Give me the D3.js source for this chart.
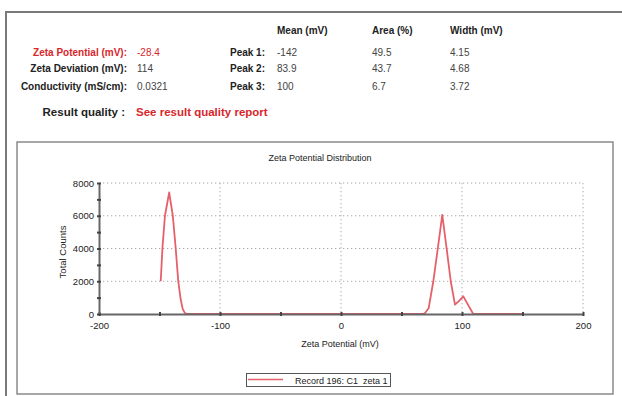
<!DOCTYPE html>
<html>
<head>
<meta charset="utf-8">
<script src="https://cdn.jsdelivr.net/npm/d3@7"></script>
<style>
  html, body { margin: 0; padding: 0; background: #fff; }
  svg { display: block; font-family: "Liberation Sans", Arial, sans-serif; }
  text { white-space: pre; }
</style>
</head>
<body>
<svg id="chart" width="622" height="396"></svg>
<script>
// Summary table
const summaryLabels = ["Zeta Potential (mV):", "Zeta Deviation (mV):", "Conductivity (mS/cm):"];
const summaryValues = ["-28.4", "114", "0.0321"];
const peakLabels = ["Peak 1:", "Peak 2:", "Peak 3:"];
const peakColumns = ["Mean (mV)", "Area (%)", "Width (mV)"];
const peakMean = ["-142", "83.9", "100"];
const peakArea = ["49.5", "43.7", "6.7"];
const peakWidth = ["4.15", "4.68", "3.72"];

// Distribution curve: zeta potential (mV) vs total counts
const zetaMv = [-149, -147.5, -145.5, -142, -139, -136.6, -134.5, -132.5, -130.8, -129.2, -127.5,
                68, 69.5, 72.5, 76.3, 80, 83.7, 87.3, 90.7, 94.2, 97.8, 101.1, 105, 109.3, 150];
const totalCounts = [2000, 4100, 6000, 7420, 6000, 4000, 2000, 900, 300, 80, 0,
                     0, 60, 370, 2000, 4000, 6050, 4000, 2000, 570, 820, 1080, 560, 0, 0];

const xTicks = [-200, -100, 0, 100, 200];
const xMinor = [-150, -50, 50, 150];
const yTicks = [0, 2000, 4000, 6000, 8000];
const yMinor = [1000, 3000, 5000, 7000];

const svg = d3.select("#chart");
const red = "#d8262b";
const curveColor = "#e6606a";

// Outer report frame
svg.append("path").attr("d", "M6,400 V12 H622")
  .attr("fill", "none").attr("stroke", "#7a7a7a").attr("stroke-width", 2);

// Table header row
const colX = [277, 372, 450];
svg.selectAll(".colhead").data(peakColumns).join("text")
  .attr("x", (d, i) => colX[i]).attr("y", 34)
  .attr("font-size", 10).attr("font-weight", "bold").attr("fill", "#222")
  .text(d => d);

const rowY = [55.5, 71.5, 89.5];
svg.selectAll(".slabel").data(summaryLabels).join("text")
  .attr("x", 127).attr("y", (d, i) => rowY[i]).attr("text-anchor", "end")
  .attr("font-size", 10).attr("font-weight", "bold")
  .attr("fill", (d, i) => i === 0 ? red : "#222")
  .text(d => d);
svg.selectAll(".svalue").data(summaryValues).join("text")
  .attr("x", 137).attr("y", (d, i) => rowY[i])
  .attr("font-size", 10).attr("fill", (d, i) => i === 0 ? red : "#444")
  .text(d => d);
svg.selectAll(".plabel").data(peakLabels).join("text")
  .attr("x", 265).attr("y", (d, i) => rowY[i]).attr("text-anchor", "end")
  .attr("font-size", 10).attr("font-weight", "bold").attr("fill", "#222")
  .text(d => d);
[peakMean, peakArea, peakWidth].forEach((col, c) => {
  svg.selectAll(".pcol" + c).data(col).join("text")
    .attr("x", colX[c]).attr("y", (d, i) => rowY[i])
    .attr("font-size", 10).attr("fill", "#444")
    .text(d => d);
});

svg.append("text").attr("x", 125).attr("y", 116).attr("text-anchor", "end")
  .attr("font-size", 11.5).attr("font-weight", "bold").attr("fill", "#222")
  .text("Result quality :");
svg.append("text").attr("x", 136).attr("y", 116)
  .attr("font-size", 11.5).attr("font-weight", "bold").attr("fill", red)
  .text("See result quality report");

// Chart panel frame
svg.append("rect").attr("x", 17).attr("y", 142).attr("width", 596).attr("height", 252)
  .attr("fill", "#fff").attr("stroke", "#8a8a8a").attr("stroke-width", 1.5);

svg.append("text").attr("x", 320).attr("y", 161).attr("text-anchor", "middle")
  .attr("font-size", 9).attr("fill", "#222").text("Zeta Potential Distribution");

const x = d3.scaleLinear().domain([-200, 200]).range([99, 583]);
const y = d3.scaleLinear().domain([0, 8000]).range([314, 183]);

// Dotted grid
const grid = svg.append("g").attr("stroke", "#a8a8a8").attr("stroke-width", 1)
  .attr("stroke-dasharray", "1.3,2.7");
grid.selectAll(".gx").data(xTicks.slice(1)).join("line")
  .attr("x1", d => x(d)).attr("x2", d => x(d)).attr("y1", y(8000)).attr("y2", y(0));
grid.selectAll(".gy").data(yTicks.slice(1)).join("line")
  .attr("x1", x(-200)).attr("x2", x(200)).attr("y1", d => y(d)).attr("y2", d => y(d));

// Curve
const line = d3.line().x(d => x(d[0])).y(d => y(d[1]));
svg.append("path").datum(d3.zip(zetaMv, totalCounts))
  .attr("d", line).attr("fill", "none").attr("stroke", curveColor)
  .attr("stroke-width", 1.8).attr("stroke-linejoin", "round");

// Axes
function styleAxis(g) {
  g.select(".domain").attr("stroke", "#666").attr("stroke-width", 2);
  g.selectAll(".tick line").attr("stroke", "#444").attr("stroke-width", 2);
  g.selectAll(".tick text").attr("fill", "#222").attr("font-size", 9.5)
    .attr("font-family", "'Liberation Sans', Arial, sans-serif");
}
const plain = d => String(d);
const xAxis = svg.append("g").attr("transform", `translate(0,${y(0)})`)
  .call(d3.axisBottom(x).tickValues(xTicks).tickSize(2).tickSizeOuter(0).tickPadding(6).tickFormat(plain));
styleAxis(xAxis);
xAxis.selectAll(".tick line").attr("y1", -2);
const xAxisMinor = svg.append("g").attr("transform", `translate(0,${y(0)})`)
  .call(d3.axisBottom(x).tickValues(xMinor).tickSize(2).tickFormat(""));
xAxisMinor.select(".domain").remove();
xAxisMinor.selectAll(".tick line").attr("y1", -2).attr("stroke", "#444").attr("stroke-width", 2);

const yAxis = svg.append("g").attr("transform", `translate(${x(-200)},0)`)
  .call(d3.axisLeft(y).tickValues(yTicks).tickSize(2).tickSizeOuter(0).tickPadding(3).tickFormat(plain));
styleAxis(yAxis);
yAxis.selectAll(".tick line").attr("x1", 2);
const yAxisMinor = svg.append("g").attr("transform", `translate(${x(-200)},0)`)
  .call(d3.axisLeft(y).tickValues(yMinor).tickSize(2).tickFormat(""));
yAxisMinor.select(".domain").remove();
yAxisMinor.selectAll(".tick line").attr("x1", 2).attr("stroke", "#444").attr("stroke-width", 2);

svg.append("text").attr("x", 340).attr("y", 347).attr("text-anchor", "middle")
  .attr("font-size", 9).attr("fill", "#222").text("Zeta Potential (mV)");
svg.append("text").attr("transform", "translate(66,252) rotate(-90)").attr("text-anchor", "middle")
  .attr("font-size", 9.5).attr("fill", "#222").text("Total Counts");

// Legend
const legend = svg.append("g");
legend.append("rect").attr("x", 246.5).attr("y", 373.5).attr("width", 144).attr("height", 13)
  .attr("fill", "#fff").attr("stroke", "#555").attr("stroke-width", 1);
legend.append("line").attr("x1", 248).attr("x2", 283).attr("y1", 379.5).attr("y2", 379.5)
  .attr("stroke", curveColor).attr("stroke-width", 1.5);
legend.append("text").attr("x", 295).attr("y", 383.5).attr("font-size", 9).attr("fill", "#222")
  .text("Record 196: C1  zeta 1");
</script>
</body>
</html>
